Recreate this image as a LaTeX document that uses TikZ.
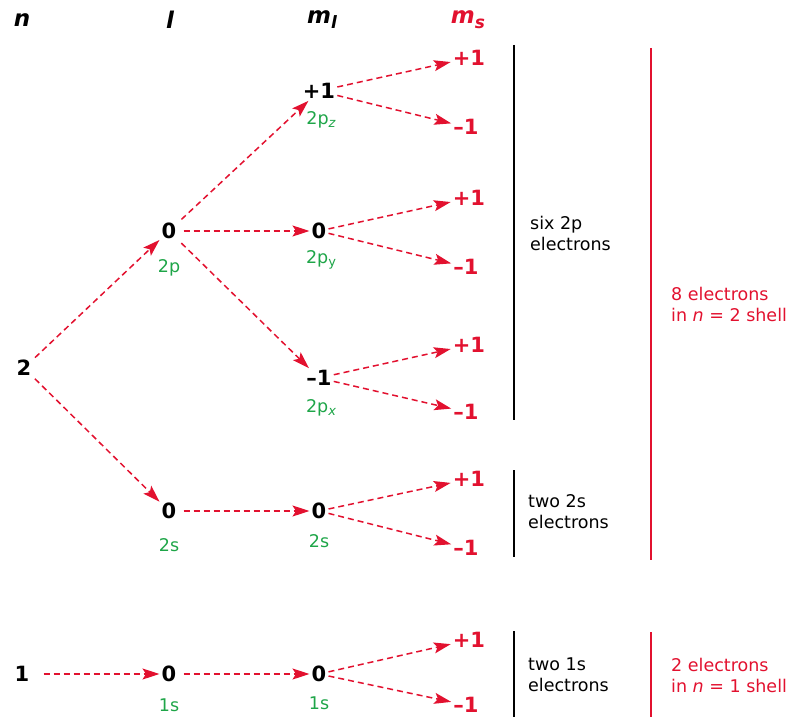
\documentclass[tikz,border=0pt]{standalone}
\usepackage{fontspec}
\setmainfont{DejaVu Sans}
\usetikzlibrary{arrows.meta}
\definecolor{cred}{HTML}{E2112F}
\definecolor{cgreen}{HTML}{1EA548}
\newcommand{\orbsub}[1]{\raisebox{-3pt}{\fontsize{13}{13}\selectfont #1}}
\begin{document}
\begin{tikzpicture}[x=1pt,y=-1pt,
 num/.style={font=\fontsize{21}{21}\selectfont\bfseries, inner sep=2pt},
 rnum/.style={num, text=cred},
 orb/.style={font=\fontsize{17.5}{17.5}\selectfont, text=cgreen, inner sep=1pt},
 hdr/.style={font=\fontsize{23}{23}\selectfont\bfseries\itshape, inner sep=1pt},
 arr/.style={draw=cred, line width=1.5pt, dash pattern=on 6pt off 4pt, -{Stealth[length=17pt,width=11pt,inset=3.5pt]}},
 note/.style={font=\fontsize{17.5}{21}\selectfont, align=left, anchor=west, inner sep=0pt},
 blk/.style={line width=1.6pt, draw=black},
 rln/.style={line width=1.6pt, draw=cred},
]
\useasboundingbox (0,0) rectangle (790,717);
% headers
\node[hdr] (hn) at (22,20) {n};
\node[hdr] (hl) at (170,20) {l};
\node[hdr] (hml) at (322,20) {m\raisebox{-5pt}{\fontsize{17}{17}\selectfont l}};
\node[hdr,text=cred] (hms) at (468,20) {m\raisebox{-5pt}{\fontsize{17}{17}\selectfont s}};
% n column
\node[num] (n2) at (24,368) {2};
\node[num] (n1) at (22,674) {1};
% l column
\node[num] (l2p) at (169,231) {0};
\node[orb] (t2p) at (169,268) {2p};
\node[num] (l2s) at (169,511) {0};
\node[orb] (t2s) at (169,545) {2s};
\node[num] (l1s) at (169,674) {0};
\node[orb] (t1s) at (169,705) {1s};
% ml column
\node[num] (mz) at (319,91) {+1};
\node[orb] (tz) at (321,120) {2p\orbsub{\itshape z}};
\node[num] (my) at (319,231) {0};
\node[orb] (ty) at (321,260) {2p\orbsub{y}};
\node[num] (mx) at (319,378) {–1};
\node[orb] (tx) at (321,408) {2p\orbsub{\itshape x}};
\node[num] (ms2) at (319,511) {0};
\node[orb] (tms2) at (319,541) {2s};
\node[num] (ms1) at (319,674) {0};
\node[orb] (tms1) at (319,703) {1s};
% ms column
\node[rnum] (a1) at (469,58) {+1};
\node[rnum] (a2) at (466,127) {–1};
\node[rnum] (b1) at (469,198) {+1};
\node[rnum] (b2) at (466,267) {–1};
\node[rnum] (c1) at (469,345) {+1};
\node[rnum] (c2) at (466,412) {–1};
\node[rnum] (d1) at (469,479) {+1};
\node[rnum] (d2) at (466,548) {–1};
\node[rnum] (e1) at (469,640) {+1};
\node[rnum] (e2) at (466,705) {–1};
% arrows
\draw[arr, shorten <=2pt] (n2) -- (l2p);
\draw[arr, shorten <=2pt] (n2) -- (l2s);
\draw[arr, shorten <=12pt] (n1) -- (l1s);
\draw[arr, shorten <=4pt] (l2p) -- (mz);
\draw[arr, shorten <=5pt] (l2p) -- (my);
\draw[arr, shorten <=4pt] (l2p) -- (mx);
\draw[arr, shorten <=5pt] (l2s) -- (ms2);
\draw[arr, shorten <=5pt] (l1s) -- (ms1);
\draw[arr] (mz) -- (a1);
\draw[arr] (mz) -- (a2);
\draw[arr] (my) -- (b1);
\draw[arr] (my) -- (b2);
\draw[arr] (mx) -- (c1);
\draw[arr] (mx) -- (c2);
\draw[arr] (ms2) -- (d1);
\draw[arr] (ms2) -- (d2);
\draw[arr] (ms1) -- (e1);
\draw[arr] (ms1) -- (e2);
% brackets
\draw[blk] (514,45) -- (514,420);
\draw[blk] (514,470) -- (514,557);
\draw[blk] (514,631) -- (514,717);
\draw[rln] (651,48) -- (651,560);
\draw[rln] (651,632) -- (651,717);
% notes
\node[note] (s2p) at (530,233) {six 2p\\electrons};
\node[note] (s2s) at (528,512) {two 2s\\electrons};
\node[note] (s1s) at (528,675) {two 1s\\electrons};
\node[note,text=cred] (sh2) at (671,304) {8 electrons\\in \textit{n} = 2 shell};
\node[note,text=cred] (sh1) at (671,675) {2 electrons\\in \textit{n} = 1 shell};
\end{tikzpicture}
\end{document}
